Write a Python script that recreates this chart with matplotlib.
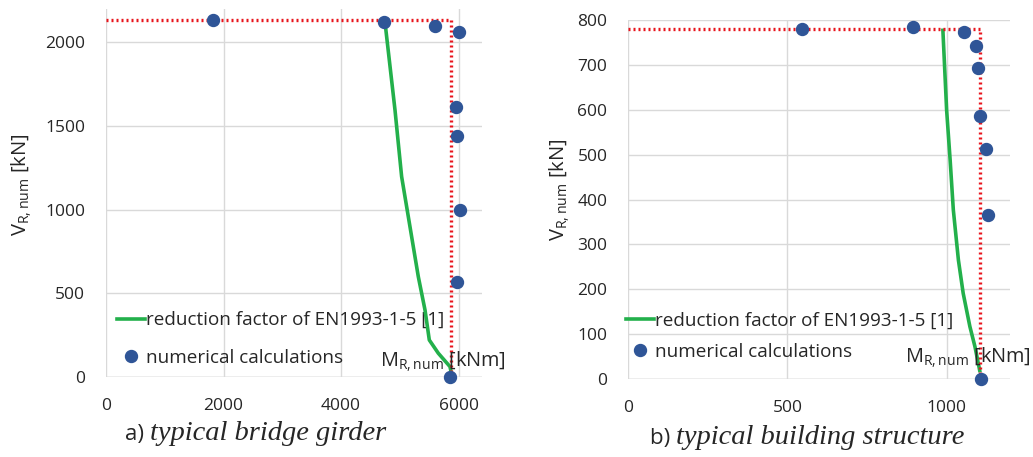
import matplotlib
matplotlib.use("Agg")
import matplotlib.pyplot as plt
from matplotlib.lines import Line2D

plt.rcParams['font.family'] = ['Open Sans', 'DejaVu Sans']

# ---- data: a) typical bridge girder ----
a_num_M = [1820, 4730, 5600, 6000, 5950, 5980, 6030, 5970, 5860]
a_num_V = [2135, 2120, 2095, 2060, 1610, 1440, 1000, 570, 0]
a_ec_M = [4750, 4919, 5032, 5174, 5316, 5430, 5503, 5656, 5855, 5880]
a_ec_V = [2116, 1595, 1197, 898, 599, 400, 221, 142, 62, 20]
a_MR, a_VR = 5870, 2135

# ---- data: b) typical building structure ----
b_num_M = [545, 895, 1055, 1091, 1100, 1105, 1124, 1131, 1107]
b_num_V = [781, 784, 773, 741, 693, 585, 513, 365, 0]
b_ec_M = [988, 1000, 1011, 1021, 1037, 1052, 1073, 1089, 1105]
b_ec_V = [781, 599, 488, 377, 265, 191, 117, 72, 15]
b_MR, b_VR = 1105, 781

a_xticks = [0, 2000, 4000, 6000]
a_yticks = [0, 500, 1000, 1500, 2000]
b_xticks = [0, 500, 1000]
b_yticks = [0, 100, 200, 300, 400, 500, 600, 700, 800]

W, H = 1033, 457
fig = plt.figure(figsize=(W / 100, H / 100), dpi=100)

GREEN = '#23b04b'
RED = '#e8141c'
BLUE = '#2f5597'
GRID = '#d9d9d9'
TXT = '#262626'


def make_axes(rect, xlim, ylim, xticks, yticks):
    ax = fig.add_axes(rect)
    ax.set_xlim(*xlim)
    ax.set_ylim(*ylim)
    ax.set_xticks(xticks)
    ax.set_yticks(yticks)
    for s in ax.spines.values():
        s.set_visible(False)
    ax.grid(True, color=GRID, linewidth=1.0)
    ax.set_axisbelow(True)
    ax.tick_params(length=0, labelsize=12.5, colors=TXT, pad=15)
    ax.axhline(0, color='#bfbfbf', linewidth=1.0, zorder=0.5)
    return ax


def draw(ax, num_M, num_V, ec_M, ec_V, MR, VR, labelspacing, anchor):
    ax.plot(ec_M, ec_V, color=GREEN, linewidth=2.6, zorder=3,
            solid_capstyle='butt')
    ax.plot([0, MR, MR], [VR, VR, 0], color=RED, linewidth=2.4,
            linestyle=(0, (0.6, 0.9)), zorder=4)
    ax.plot(num_M, num_V, linestyle='none', marker='o', markersize=8.6,
            color=BLUE, zorder=5, clip_on=False)
    h1 = Line2D([], [], color=GREEN, linewidth=2.6)
    h2 = Line2D([], [], linestyle='none', marker='o', markersize=8.6, color=BLUE)
    leg = ax.legend([h1, h2],
                    ['reduction factor of EN1993-1-5 [1]', 'numerical calculations'],
                    loc='lower left', bbox_to_anchor=anchor,
                    bbox_transform=fig.transFigure,
                    frameon=False, fontsize=13.6, handlelength=1.5,
                    handletextpad=0.05, labelspacing=labelspacing,
                    borderpad=0, borderaxespad=0)
    for t in leg.get_texts():
        t.set_color(TXT)
    leg.set_zorder(2)


# left axes
axa = make_axes([106 / W, 1 - 377 / H, 376 / W, (377 - 8.7) / H],
                (0, 6400), (0, 2200), a_xticks, a_yticks)
draw(axa, a_num_M, a_num_V, a_ec_M, a_ec_V, a_MR, a_VR, 1.05,
     (117 / W, 1 - 367 / H))

# right axes
axb = make_axes([628.3 / W, 1 - 379 / H, 382 / W, 359 / H],
                (0, 1200), (0, 800), b_xticks, b_yticks)
draw(axb, b_num_M, b_num_V, b_ec_M, b_ec_V, b_MR, b_VR, 0.72,
     (626 / W, 1 - 361 / H))

# y labels
fig.text(22 / W, 1 - 185 / H, r'$\mathregular{V_{R,num}}$ [kN]', rotation=90,
         ha='center', va='center', fontsize=14.5, color=TXT)
fig.text(560 / W, 1 - 190 / H, r'$\mathregular{V_{R,num}}$ [kN]', rotation=90,
         ha='center', va='center', fontsize=14.5, color=TXT)

# x axis titles
fig.text(380 / W, 1 - 362 / H, r'$\mathregular{M_{R,num}}$ [kNm]',
         ha='left', va='center', fontsize=14.3, color=TXT)
fig.text(905 / W, 1 - 358 / H, r'$\mathregular{M_{R,num}}$ [kNm]',
         ha='left', va='center', fontsize=14.3, color=TXT)


# captions
def caption(x, y, tag, rest):
    t1 = fig.text(x / W, 1 - y / H, tag + ' ', ha='left', va='baseline',
                  fontsize=16, color=TXT)
    fig.canvas.draw()
    bb = t1.get_window_extent()
    fig.text(bb.x1 / W, 1 - y / H, rest, ha='left', va='baseline',
             fontsize=20.5, color=TXT, family='Liberation Serif', style='italic')


caption(125, 440, 'a)', 'typical bridge girder')
caption(650, 444, 'b)', 'typical building structure')

fig.savefig('out.png', dpi=100)
